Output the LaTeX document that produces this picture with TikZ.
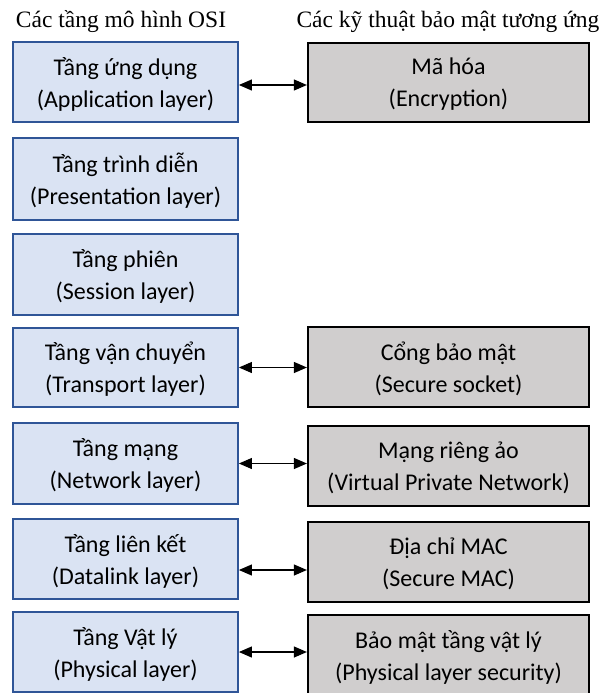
\documentclass[tikz,border=0pt]{standalone}
\usepackage{fontspec}
\setmainfont{Liberation Serif}
\newfontfamily\boxfont{Carlito}
\usetikzlibrary{arrows.meta}
\definecolor{lfill}{HTML}{DAE3F3}
\definecolor{ldraw}{HTML}{2F5597}
\definecolor{rfill}{HTML}{D0CECE}
\tikzset{
  lbox/.style={draw=ldraw, line width=1.8pt, fill=lfill, minimum width=225pt, inner sep=0pt, align=center, text depth=0pt, font=\boxfont\fontsize{24}{32}\selectfont},
  rbox/.style={draw=black, line width=2.2pt, fill=rfill, minimum width=281pt, inner sep=0pt, align=center, text depth=0pt, font=\boxfont\fontsize{24}{32}\selectfont},
  ttl/.style={font=\fontsize{23.5}{28}\selectfont, inner sep=0pt},
  link/.style={{Triangle[length=13pt,width=11pt]}-{Triangle[length=13pt,width=11pt]}, line width=1.1pt, black}
}
\begin{document}
\begin{tikzpicture}[x=1pt,y=-1pt]
\useasboundingbox (0,0) rectangle (603,693);
\node[ttl] (t1) at (121,22) {Các tầng mô hình OSI};
\node[ttl] (t2) at (448,22) {Các kỹ thuật bảo mật tương ứng};
\node[lbox, minimum height=80pt] (l1) at (125.5,82) {Tầng ứng dụng\\(Application layer)};
\node[lbox, minimum height=82pt] (l2) at (125.5,179) {Tầng trình diễn\\(Presentation layer)};
\node[lbox, minimum height=81pt] (l3) at (125.5,274.5) {Tầng phiên\\(Session layer)};
\node[lbox, minimum height=79pt] (l4) at (125.5,367.5) {Tầng vận chuyển\\(Transport layer)};
\node[lbox, minimum height=81pt] (l5) at (125.5,463.5) {Tầng mạng\\(Network layer)};
\node[lbox, minimum height=80pt] (l6) at (125.5,559) {Tầng liên kết\\(Datalink layer)};
\node[lbox, minimum height=80pt] (l7) at (125.5,652) {Tầng Vật lý\\(Physical layer)};
\node[rbox, minimum height=79pt] (r1) at (448.5,82.5) {Mã hóa\\(Encryption)};
\node[rbox, minimum height=80pt] (r4) at (448.5,367) {Cổng bảo mật\\(Secure socket)};
\node[rbox, minimum height=80pt] (r5) at (448.5,466) {Mạng riêng ảo\\(Virtual Private Network)};
\node[rbox, minimum height=80pt] (r6) at (448.5,562) {Địa chỉ MAC\\(Secure MAC)};
\node[rbox, minimum height=80pt] (r7) at (448.5,655) {Bảo mật tầng vật lý\\(Physical layer security)};
\draw[link] ([yshift=-3pt]l1.east) -- ([yshift=-3pt]l1.east -| r1.west);
\draw[link] (l4.east) -- (l4.east -| r4.west);
\draw[link] (l5.east) -- (l5.east -| r5.west);
\draw[link] ([yshift=-11pt]l6.east) -- ([yshift=-11pt]l6.east -| r6.west);
\draw[link] (l7.east) -- (l7.east -| r7.west);
\end{tikzpicture}
\end{document}
